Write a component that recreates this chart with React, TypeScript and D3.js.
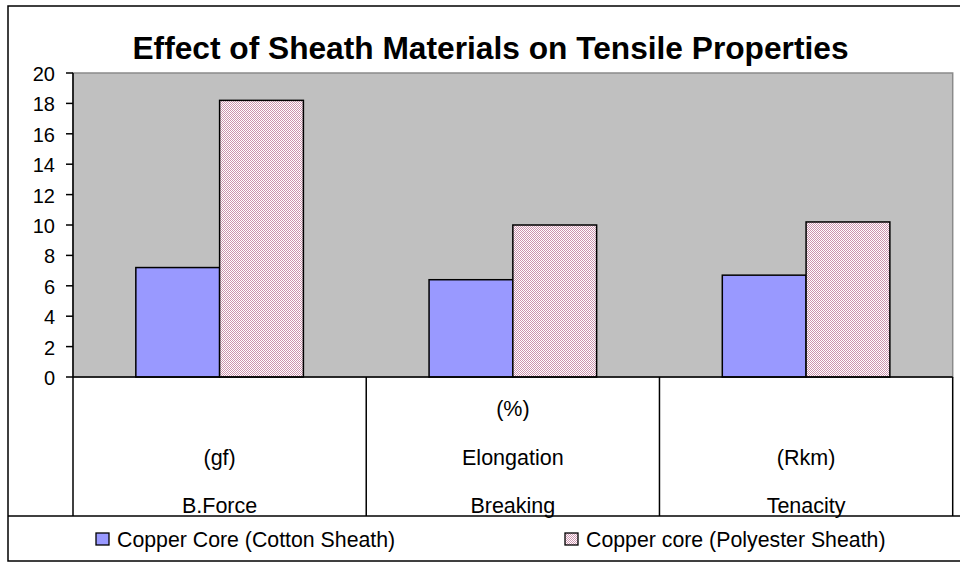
import React, { useEffect, useRef } from 'react';
import * as d3 from 'd3';

// chart values
const categories = ['B.Force', 'Elongation', 'Tenacity'];
const labelLines = [
  ['', '(gf)', 'B.Force'],
  ['(%)', 'Elongation', 'Breaking'],
  ['', '(Rkm)', 'Tenacity'],
];
const seriesNames = ['Copper Core (Cotton Sheath)', 'Copper core (Polyester Sheath)'];
const cottonValues = [7.2, 6.4, 6.7];
const polyesterValues = [18.2, 10.0, 10.2];
const yTicks = [0, 2, 4, 6, 8, 10, 12, 14, 16, 18, 20];

const W = 960;
const H = 563;
const font = "'Liberation Sans', Arial, sans-serif";

export default function App() {
  const ref = useRef<SVGSVGElement>(null);

  useEffect(() => {
    const svg = d3.select(ref.current);
    svg.selectAll('*').remove();

    const plot = { left: 73, right: 952.7, top: 73, bottom: 377 };
    const labelBottom = 516;

    // fine pink/white dither like the original fill
    const defs = svg.append('defs');
    const pat = defs
      .append('pattern')
      .attr('id', 'pinkDots')
      .attr('patternUnits', 'userSpaceOnUse')
      .attr('width', 2)
      .attr('height', 2);
    pat.append('rect').attr('width', 2).attr('height', 2).attr('fill', '#ffffff');
    pat.append('rect').attr('x', 0).attr('y', 0).attr('width', 1).attr('height', 1).attr('fill', '#cc94ae');
    pat.append('rect').attr('x', 1).attr('y', 1).attr('width', 1).attr('height', 1).attr('fill', '#cc94ae');

    // background + outer frame
    svg.append('rect').attr('width', W).attr('height', H).attr('fill', '#ffffff');
    svg
      .append('rect')
      .attr('x', 8)
      .attr('y', 6)
      .attr('width', W + 10)
      .attr('height', 555)
      .attr('fill', 'none')
      .attr('stroke', '#000')
      .attr('stroke-width', 1.5);

    // title
    svg
      .append('text')
      .attr('x', 490.5)
      .attr('y', 59)
      .attr('text-anchor', 'middle')
      .attr('font-family', font)
      .attr('font-weight', 'bold')
      .attr('font-size', 31.7)
      .text('Effect of Sheath Materials on Tensile Properties');

    const x0 = d3.scaleBand().domain(categories).range([plot.left, plot.right]).padding(0);
    const x1 = d3
      .scaleBand()
      .domain(['cotton', 'polyester'])
      .range([0, x0.bandwidth()])
      .paddingInner(0)
      .paddingOuter(0.75);
    const y = d3.scaleLinear().domain([0, 20]).range([plot.bottom, plot.top]);

    // plot area
    svg
      .append('rect')
      .attr('x', plot.left)
      .attr('y', plot.top)
      .attr('width', plot.right - plot.left)
      .attr('height', plot.bottom - plot.top)
      .attr('fill', '#c0c0c0')
      .attr('stroke', '#8a8a8a')
      .attr('stroke-width', 1.5);

    // bars (absolute x so the dither pattern stays on the pixel grid)
    svg
      .selectAll('rect.cotton')
      .data(categories)
      .enter()
      .append('rect')
      .attr('class', 'cotton')
      .attr('x', (d) => x0(d)! + x1('cotton')!)
      .attr('y', (d, i) => y(cottonValues[i]))
      .attr('width', x1.bandwidth())
      .attr('height', (d, i) => y(0) - y(cottonValues[i]))
      .attr('fill', '#9999ff')
      .attr('stroke', '#000')
      .attr('stroke-width', 1.5);

    svg
      .selectAll('rect.polyester')
      .data(categories)
      .enter()
      .append('rect')
      .attr('class', 'polyester')
      .attr('x', (d) => x0(d)! + x1('polyester')!)
      .attr('y', (d, i) => y(polyesterValues[i]))
      .attr('width', x1.bandwidth())
      .attr('height', (d, i) => y(0) - y(polyesterValues[i]))
      .attr('fill', 'url(#pinkDots)')
      .attr('stroke', '#000')
      .attr('stroke-width', 1.5);

    // y axis
    const yAxis = svg.append('g');
    yAxis
      .append('line')
      .attr('x1', plot.left)
      .attr('x2', plot.left)
      .attr('y1', plot.top)
      .attr('y2', labelBottom)
      .attr('stroke', '#000')
      .attr('stroke-width', 1.5);
    yAxis
      .selectAll('line.tick')
      .data(yTicks)
      .enter()
      .append('line')
      .attr('class', 'tick')
      .attr('x1', plot.left - 7)
      .attr('x2', plot.left)
      .attr('y1', (d) => y(d))
      .attr('y2', (d) => y(d))
      .attr('stroke', '#000')
      .attr('stroke-width', 1.5);
    yAxis
      .selectAll('text')
      .data(yTicks)
      .enter()
      .append('text')
      .attr('x', 55)
      .attr('y', (d) => y(d) + 8)
      .attr('text-anchor', 'end')
      .attr('font-family', font)
      .attr('font-size', 20)
      .text((d) => d);

    // x axis + label grid
    svg
      .append('line')
      .attr('x1', plot.left)
      .attr('x2', plot.right)
      .attr('y1', plot.bottom)
      .attr('y2', plot.bottom)
      .attr('stroke', '#000')
      .attr('stroke-width', 1.5);
    const bounds = categories.slice(1).map((c) => x0(c)!).concat([plot.right]);
    svg
      .selectAll('line.sep')
      .data(bounds)
      .enter()
      .append('line')
      .attr('class', 'sep')
      .attr('x1', (d) => d)
      .attr('x2', (d) => d)
      .attr('y1', plot.bottom)
      .attr('y2', labelBottom)
      .attr('stroke', '#000')
      .attr('stroke-width', 1.5);

    const rowY = [416, 464.5, 512.5];
    categories.forEach((c, i) => {
      labelLines[i].forEach((t, j) => {
        if (!t) return;
        svg
          .append('text')
          .attr('x', x0(c)! + x0.bandwidth() / 2)
          .attr('y', rowY[j])
          .attr('text-anchor', 'middle')
          .attr('font-family', font)
          .attr('font-size', 21.5)
          .text(t);
      });
    });

    // legend
    svg
      .append('line')
      .attr('x1', 8)
      .attr('x2', W)
      .attr('y1', labelBottom)
      .attr('y2', labelBottom)
      .attr('stroke', '#000')
      .attr('stroke-width', 1.5);
    const legendX = [96, 565];
    const legendFill = ['#9999ff', 'url(#pinkDots)'];
    seriesNames.forEach((name, i) => {
      svg
        .append('rect')
        .attr('x', legendX[i])
        .attr('y', 533)
        .attr('width', 13)
        .attr('height', 12)
        .attr('fill', legendFill[i])
        .attr('stroke', '#000')
        .attr('stroke-width', 1.3);
      svg
        .append('text')
        .attr('x', legendX[i] + 21)
        .attr('y', 546.5)
        .attr('font-family', font)
        .attr('font-size', 21.3)
        .text(name);
    });
  }, []);

  return (
    <svg
      ref={ref}
      width={W}
      height={H}
      style={{ position: 'absolute', left: 0, top: 0, display: 'block' }}
    />
  );
}
